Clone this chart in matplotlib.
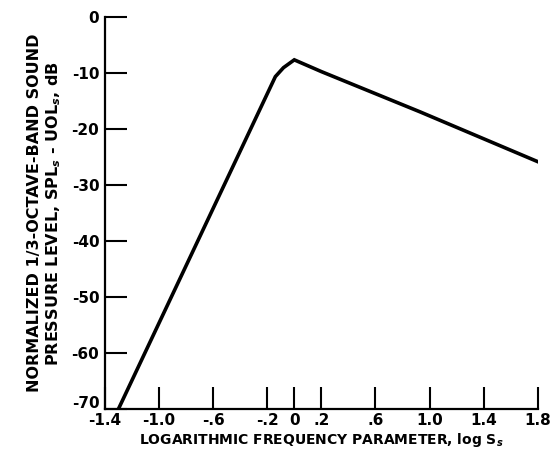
import matplotlib
matplotlib.use("Agg")
import matplotlib.pyplot as plt
import matplotlib.transforms as mtransforms

# normalized spectrum shape, level vs log frequency parameter
log_s = [-1.30, -0.14, -0.08, 0.0, 0.2, 0.93, 1.8]
spl = [-70.0, -10.6, -9.0, -7.6, -9.7, -16.9, -25.8]

xticks = [-1.4, -1.0, -0.6, -0.2, 0.0, 0.2, 0.6, 1.0, 1.4, 1.8]
xticklabels = ["-1.4", "-1.0", "-.6", "-.2", "0", ".2", ".6", "1.0", "1.4", "1.8"]
yticks = [0, -10, -20, -30, -40, -50, -60, -70]

plt.rcParams['font.family'] = 'DejaVu Sans'
plt.rcParams['font.weight'] = 'bold'

fig = plt.figure(figsize=(5.55, 4.68), dpi=100)
ax = fig.add_axes([0.189, 0.126, 0.780, 0.837])

ax.plot(log_s, spl, color='black', lw=2.6, solid_joinstyle='miter')

ax.set_xlim(-1.4, 1.8)
ax.set_ylim(-70, 0)
ax.set_xticks(xticks)
ax.set_xticklabels(xticklabels)
ax.set_yticks(yticks)
ax.set_yticklabels([str(v) for v in yticks])

ax.tick_params(direction='in', length=16, width=1.5, labelsize=11, pad=4)
ax.tick_params(axis='x', pad=3)
for s in ['top', 'right']:
    ax.spines[s].set_visible(False)
for s in ['left', 'bottom']:
    ax.spines[s].set_linewidth(1.6)

# lift the bottom y label so it clears the first x label
lift = mtransforms.ScaledTranslation(0, 5 / 72, fig.dpi_scale_trans)
ylab = ax.get_yticklabels()[-1]
ylab.set_transform(ylab.get_transform() + lift)

ax.set_xlabel("LOGARITHMIC FREQUENCY PARAMETER, log S$_s$",
              fontsize=10, fontweight='bold', labelpad=2)
ax.set_ylabel("NORMALIZED 1/3-OCTAVE-BAND SOUND\nPRESSURE LEVEL, SPL$_s$ - UOL$_s$, dB",
              fontsize=11.5, fontweight='bold', labelpad=6, linespacing=1.2)

fig.savefig("out.png", dpi=100)
